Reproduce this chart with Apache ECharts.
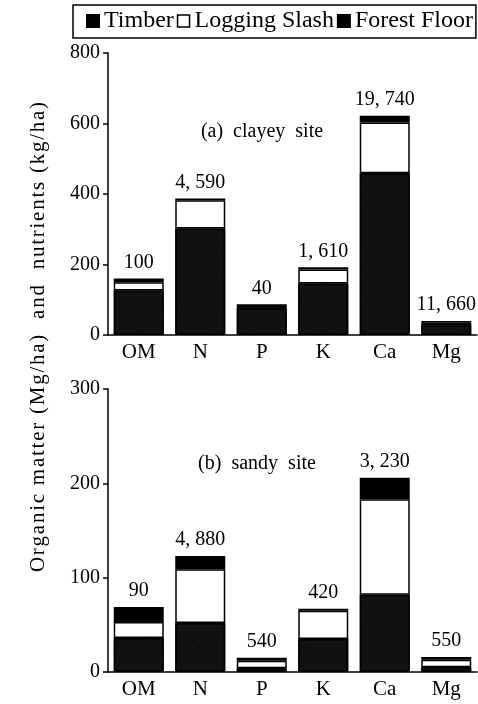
<!DOCTYPE html>
<html>
<head>
<meta charset="utf-8">
<script src="https://cdn.jsdelivr.net/npm/echarts@6/dist/echarts.min.js"></script>
<style>
html,body{margin:0;padding:0;background:#fff;}
#c{width:478px;height:704px;}
</style>
</head>
<body>
<div id="c"></div>
<script>
const categories = ['OM', 'N', 'P', 'K', 'Ca', 'Mg'];
const seriesNames = ['Timber', 'Logging Slash', 'Forest Floor'];

// (a) clayey site
const clayTimber = [126, 302, 76, 146, 459, 28];
const claySlash  = [24, 80, 6, 40, 144, 7];
const clayFloor  = [10, 5, 5, 6, 19, 5];
const clayLabels = ['100', '4, 590', '40', '1, 610', '19, 740', '11, 660'];

// (b) sandy site
const sandTimber = [36, 52, 4, 35, 82, 5];
const sandSlash  = [17, 57, 8, 30, 101, 8];
const sandFloor  = [16, 14, 3, 2, 23, 3];
const sandLabels = ['90', '4, 880', '540', '420', '3, 230', '550'];

const yTitle = 'Organic matter (Mg/ha)  and  nutrients (kg/ha)';

const FONT = '"Liberation Serif", "DejaVu Serif", serif';

const chart = echarts.init(document.getElementById('c'), null, {renderer: 'canvas'});

const timberDecal = {
  symbol: 'circle',
  symbolSize: 0.35,
  color: 'rgba(255,255,255,0.35)',
  dashArrayX: [[2, 9], [2, 7]],
  dashArrayY: [2, 6],
  rotation: 0.4
};

function mkSeries(name, data, gi, color, labels) {
  const s = {
    name: name,
    type: 'bar',
    stack: 'g' + gi,
    xAxisIndex: gi,
    yAxisIndex: gi,
    data: data,
    barWidth: 50,
    itemStyle: {color: color, borderColor: '#000', borderWidth: 1.5},
    emphasis: {disabled: true},
    animation: false
  };
  if (name === 'Timber') s.itemStyle.decal = timberDecal;
  if (labels) {
    s.label = {
      show: true,
      position: 'top',
      distance: 6,
      formatter: p => labels[p.dataIndex],
      fontFamily: FONT,
      fontSize: 20,
      color: '#000'
    };
  }
  return s;
}

function xAx(gi) {
  return {
    type: 'category', gridIndex: gi, data: categories,
    axisLine: {lineStyle: {color: '#000', width: 1.5}},
    axisTick: {show: false},
    axisLabel: {fontFamily: FONT, fontSize: 21, color: '#000', margin: 7}
  };
}
function yAx(gi, max, interval) {
  return {
    type: 'value', gridIndex: gi, min: 0, max: max, interval: interval,
    splitLine: {show: false},
    axisLine: {show: true, lineStyle: {color: '#000', width: 1.5}},
    axisTick: {show: true, length: 5, lineStyle: {color: '#000', width: 1.5}},
    axisLabel: {fontFamily: FONT, fontSize: 20, color: '#000', margin: 8}
  };
}

// letter-spaced title (hair spaces between characters)
const spacedTitle = yTitle.split('').join('\u200A');

chart.setOption({
  backgroundColor: '#fff',
  animation: false,
  legend: {
    data: [
      {name: 'Timber', itemStyle: {color: '#000', borderColor: '#000', decal: 'none'}},
      {name: 'Logging Slash', itemStyle: {color: '#fff', borderColor: '#000', borderWidth: 1.5}},
      {name: 'Forest Floor', itemStyle: {color: '#000', borderColor: '#000'}}
    ],
    left: 73, top: 5,
    icon: 'rect',
    itemWidth: 12, itemHeight: 12,
    itemGap: 3,
    padding: [4, 3, 5, 13],
    borderColor: '#000', borderWidth: 1.5,
    textStyle: {fontFamily: FONT, fontSize: 24, color: '#000'},
    selectedMode: false
  },
  title: [
    {text: '(a)  clayey  site', left: 257, top: 117, textAlign: 'center',
     textStyle: {fontFamily: FONT, fontSize: 20, fontWeight: 'normal', color: '#000'}},
    {text: '(b)  sandy  site', left: 252, top: 449, textAlign: 'center',
     textStyle: {fontFamily: FONT, fontSize: 20, fontWeight: 'normal', color: '#000'}}
  ],
  graphic: [{
    type: 'text',
    x: 38, y: 337,
    rotation: Math.PI / 2,
    style: {
      text: spacedTitle,
      font: '21px ' + FONT,
      fill: '#000',
      align: 'center',
      verticalAlign: 'middle'
    }
  }],
  grid: [
    {left: 108, right: 1, top: 53, height: 282},
    {left: 108, right: 1, top: 389, height: 283}
  ],
  xAxis: [xAx(0), xAx(1)],
  yAxis: [yAx(0, 800, 200), yAx(1, 300, 100)],
  series: [
    mkSeries('Timber', clayTimber, 0, '#111'),
    mkSeries('Logging Slash', claySlash, 0, '#fff'),
    mkSeries('Forest Floor', clayFloor, 0, '#000', clayLabels),
    mkSeries('Timber', sandTimber, 1, '#111'),
    mkSeries('Logging Slash', sandSlash, 1, '#fff'),
    mkSeries('Forest Floor', sandFloor, 1, '#000', sandLabels)
  ]
});
</script>
</body>
</html>
